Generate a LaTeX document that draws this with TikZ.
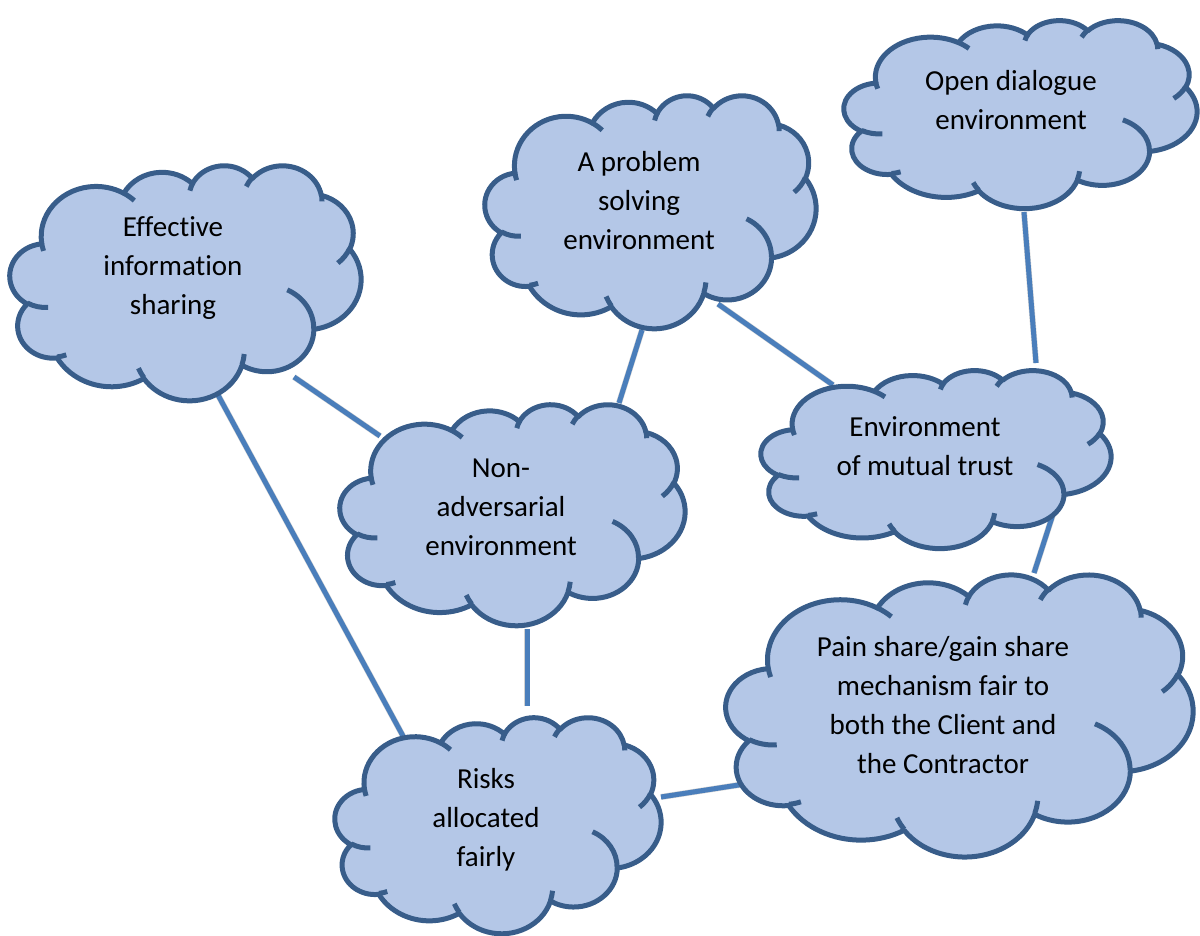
\documentclass[tikz,border=0pt]{standalone}
\usepackage{fontspec}
\setmainfont{Carlito}[Ligatures=NoCommon]

\definecolor{cloudfill}{HTML}{B4C7E7}
\definecolor{cloudedge}{HTML}{385D8A}
\definecolor{linkblue}{HTML}{4A7EBB}

% elliptical arc given as in DrawingML: radii, start angle and sweep
% (angles measured as ray directions, converted to parametric angles)
\newcommand\carc[4]{arc[x radius=#1, y radius=#2,
  start angle={atan2(#1*sin(#3),#2*cos(#3))},
  delta angle={atan2(#1*sin(#3+#4),#2*cos(#3+#4)) - atan2(#1*sin(#3),#2*cos(#3))
    - 360*round((atan2(#1*sin(#3+#4),#2*cos(#3+#4)) - atan2(#1*sin(#3),#2*cos(#3)) - (#4))/360)}]}

% cloud in a frame: left, top, width, height (all in px)
\newcommand\cloudat[4]{%
\begin{scope}[shift={(#1,#2)},xscale={#3/43.2},yscale={#4/43.2}]
\filldraw[cloudbody] (3.900,14.370)
  \carc{6.753}{9.190}{-190.4875}{123.7805}
  \carc{5.333}{7.267}{-144.1024}{89.9452}
  \carc{4.365}{5.945}{-145.8079}{99.7230}
  \carc{4.857}{6.595}{-130.9861}{117.2417}
  \carc{5.333}{7.273}{-78.7089}{109.0269}
  \carc{6.775}{9.220}{-46.2673}{130.2690}
  \carc{5.785}{7.867}{0.6250}{114.0333}
  \carc{6.752}{9.215}{22.4516}{115.1726}
  \carc{7.720}{10.543}{66.2426}{75.7110}
  \carc{4.360}{5.918}{-274.9421}{146.7356}
  \carc{4.345}{5.945}{-246.8285}{152.5226}
  -- cycle;
\draw[cloudline]
  (4.693,26.177) \carc{4.345}{5.945}{86.7420}{26.4295}
  (6.928,34.899) \carc{4.360}{5.918}{73.6105}{11.4475}
  (16.478,39.090) \carc{6.752}{9.215}{137.6242}{14.0811}
  (28.827,34.751) \carc{6.752}{9.215}{6.4533}{15.9984}
  (34.129,22.954) \carc{5.785}{7.867}{-70.2924}{70.9174}
  (41.798,15.354) \carc{5.333}{7.273}{30.3180}{27.7515}
  (38.324,5.426) \carc{4.857}{6.595}{-13.7443}{14.8589}
  (29.078,3.952) \carc{4.857}{6.595}{-149.1815}{18.1954}
  (22.141,4.720) \carc{4.365}{5.945}{-163.4943}{17.6864}
  (14.000,5.192) \carc{6.753}{9.190}{-66.7070}{12.3194}
  (4.127,15.789) \carc{6.753}{9.190}{157.6544}{11.8582};
\end{scope}}

\tikzset{
  cloudbody/.style={fill=cloudfill, draw=cloudedge, line width=2.5pt, line join=round},
  cloudline/.style={draw=cloudedge, line width=2.5pt},
  cloudtext/.style={align=center, inner sep=0pt, text=black,
    font=\fontsize{14.5}{19.5}\selectfont},
  link/.style={draw=linkblue, line width=2.5pt},
  linkshade/.style={draw=black, opacity=0.18, line width=3pt, shift={(2,2)}}
}

\begin{document}
\begin{tikzpicture}[x=0.5pt,y=-0.5pt]
\useasboundingbox (0,0) rectangle (1200,936);

% connector ends
\coordinate (eis-a) at (294,377);
\coordinate (nae-a) at (380,436);
\coordinate (eis-b) at (218,395);
\coordinate (raf-a) at (403,736);
\coordinate (pse-a) at (642,330);
\coordinate (nae-b) at (619,403);
\coordinate (pse-b) at (718,304);
\coordinate (emt-a) at (833,385);
\coordinate (ode-a) at (1024,212);
\coordinate (emt-b) at (1036,363);
\coordinate (emt-c) at (1055,508);
\coordinate (pgs-a) at (1034,573);
\coordinate (nae-c) at (527,629);
\coordinate (raf-b) at (527,706);
\coordinate (raf-c) at (661,797);
\coordinate (pgs-b) at (745,784);

% soft shadows under the connectors
\foreach \p/\q in {eis-a/nae-a, eis-b/raf-a, pse-a/nae-b, pse-b/emt-a,
                   ode-a/emt-b, emt-c/pgs-a, nae-c/raf-b, raf-c/pgs-b}
  \draw[linkshade] (\p) -- (\q);

\draw[link] (eis-a) -- (nae-a);
\draw[link] (eis-b) -- (raf-a);
\draw[link] (pse-a) -- (nae-b);
\draw[link] (pse-b) -- (emt-a);
\draw[link] (ode-a) -- (emt-b);
\draw[link] (emt-c) -- (pgs-a);
\draw[link] (nae-c) -- (raf-b);
\draw[link] (raf-c) -- (pgs-b);

% clouds
\cloudat{10}{165}{351}{235}
\cloudat{485}{95}{331}{233}
\cloudat{844}{20}{353}{188}
\cloudat{340}{404}{345}{221}
\cloudat{761}{370}{350}{178}
\cloudat{726}{574}{467}{282}
\cloudat{335}{717}{326}{216}

% texts
\node[cloudtext] (eis) at (173,268) {Effective\\information\\sharing};
\node[cloudtext] (pse) at (639,201) {A problem\\solving\\environment};
\node[cloudtext] (ode) at (1011,100) {Open dialogue\\environment};
\node[cloudtext] (nae) at (501,507) {Non-\\adversarial\\environment};
\node[cloudtext] (emt) at (925,446) {Environment\\of mutual trust};
\node[cloudtext] (pgs) at (943,705) {Pain share/gain share\\mechanism fair to\\both the Client and\\the Contractor};
\node[cloudtext] (raf) at (486,820) {Risks\\allocated\\fairly};
\end{tikzpicture}
\end{document}
